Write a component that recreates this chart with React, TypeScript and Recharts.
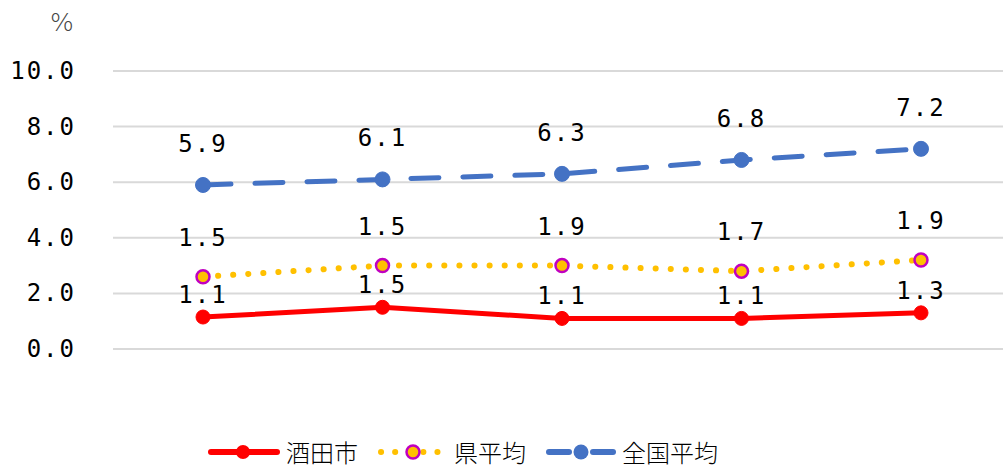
import { LineChart, Line, XAxis, YAxis, CartesianGrid, LabelList } from 'recharts';

const categories = ['1', '2', '3', '4', '5'];
const sakataValues = [1.15, 1.5, 1.1, 1.1, 1.3];
const sakataLabels = ['1.1', '1.5', '1.1', '1.1', '1.3'];
const prefValues = [2.6, 3.0, 3.0, 2.8, 3.2];
const prefLabels = ['1.5', '1.5', '1.9', '1.7', '1.9'];
const nationalValues = [5.9, 6.1, 6.3, 6.8, 7.2];
const nationalLabels = ['5.9', '6.1', '6.3', '6.8', '7.2'];
const yTicks = [0, 2, 4, 6, 8, 10];

const data = categories.map((c, i) => ({
  name: c,
  sakata: sakataValues[i],
  pref: prefValues[i],
  national: nationalValues[i],
}));

const FONT = '"DejaVu Sans Mono", monospace';

const makeLabel = (labels: string[], offset: number) => (props: any) => {
  const { x, y, index } = props;
  return (
    <text
      x={x}
      y={y - offset}
      textAnchor="middle"
      dominantBaseline="central"
      fontFamily={FONT}
      fontSize={24}
      letterSpacing={2}
      fill="#000"
    >
      {labels[index]}
    </text>
  );
};

const makeDot = (r: number, fill: string, stroke: string, sw: number) => (props: any) => {
  const { cx, cy, index } = props;
  return <circle key={index} cx={cx} cy={cy} r={r} fill={fill} stroke={stroke} strokeWidth={sw} />;
};

const YTick = (props: any) => {
  const { y, payload } = props;
  return (
    <text
      x={76}
      y={y}
      textAnchor="end"
      dominantBaseline="central"
      fontFamily={FONT}
      fontSize={24}
      letterSpacing={2}
      fill="#000"
    >
      {payload.value.toFixed(1)}
    </text>
  );
};

const legendText: React.CSSProperties = {
  fontFamily: '"Noto Sans CJK JP", sans-serif',
  fontSize: 24,
  fontWeight: 300,
  lineHeight: '28px',
  color: '#000',
  marginLeft: 6,
  marginRight: 20,
};

const App = () => {
  return (
    <div style={{ position: 'absolute', left: 0, top: 0, width: 1003, height: 468, overflow: 'hidden', background: '#fff' }}>
      <LineChart width={1010} height={468} data={data} margin={{ top: 71, right: 0, left: 0, bottom: 119 }}>
        <CartesianGrid vertical={false} stroke="#D9D9D9" strokeWidth={2} />
        <XAxis dataKey="name" hide padding={{ left: 90, right: 89 }} />
        <YAxis
          domain={[0, 10]}
          ticks={yTicks}
          width={113}
          axisLine={false}
          tickLine={false}
          tick={<YTick />}
        />
        <Line
          dataKey="national"
          stroke="#4472C4"
          strokeWidth={5}
          strokeDasharray="28 24"
          strokeLinecap="round"
          dot={makeDot(7.5, '#4472C4', '#4472C4', 1)}
          isAnimationActive={false}
        >
          <LabelList dataKey="national" content={makeLabel(nationalLabels, 41)} />
        </Line>
        <Line
          dataKey="pref"
          stroke="#FFC000"
          strokeWidth={6}
          strokeDasharray="0.1 15"
          strokeLinecap="round"
          dot={makeDot(6.5, '#FFC000', '#C000C0', 2.5)}
          isAnimationActive={false}
        >
          <LabelList dataKey="pref" content={makeLabel(prefLabels, 39)} />
        </Line>
        <Line
          dataKey="sakata"
          stroke="#FF0000"
          strokeWidth={5}
          dot={makeDot(7, '#FF0000', '#FF0000', 1)}
          isAnimationActive={false}
        >
          <LabelList dataKey="sakata" content={makeLabel(sakataLabels, 22)} />
        </Line>
      </LineChart>
      <div style={{ position: 'absolute', left: 50, top: 8, fontFamily: '"DejaVu Sans", sans-serif', fontSize: 25, fontWeight: 300, color: '#444' }}>%</div>
      <div style={{ position: 'absolute', left: 208, top: 437, display: 'flex', alignItems: 'center', height: 30 }}>
        <svg width={72} height={20}>
          <line x1={3} y1={10} x2={69} y2={10} stroke="#FF0000" strokeWidth={6} strokeLinecap="round" />
          <circle cx={35} cy={10} r={7} fill="#FF0000" />
        </svg>
        <span style={legendText}>酒田市</span>
        <svg width={70} height={20}>
          <line x1={3} y1={10} x2={67} y2={10} stroke="#FFC000" strokeWidth={6} strokeDasharray="0.1 14" strokeLinecap="round" />
          <circle cx={35} cy={10} r={6.5} fill="#FFC000" stroke="#C000C0" strokeWidth={2.5} />
        </svg>
        <span style={legendText}>県平均</span>
        <svg width={70} height={20}>
          <line x1={3} y1={10} x2={23} y2={10} stroke="#4472C4" strokeWidth={6} strokeLinecap="round" />
          <line x1={47} y1={10} x2={67} y2={10} stroke="#4472C4" strokeWidth={6} strokeLinecap="round" />
          <circle cx={35} cy={10} r={7.5} fill="#4472C4" />
        </svg>
        <span style={legendText}>全国平均</span>
      </div>
    </div>
  );
};

export default App;
